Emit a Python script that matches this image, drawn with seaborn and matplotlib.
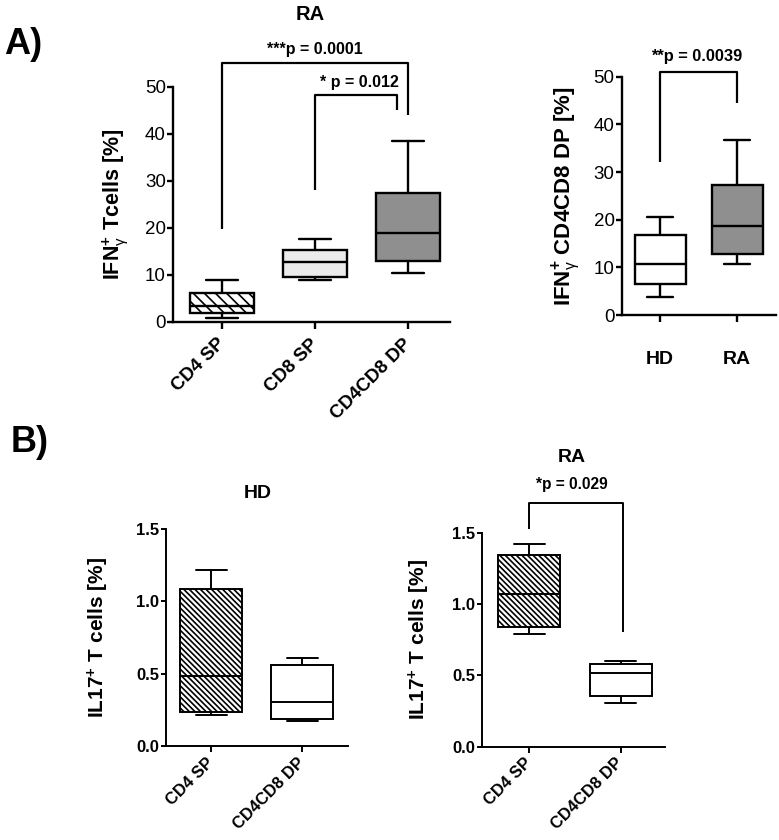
import numpy as np
import pandas as pd
import matplotlib
matplotlib.use("Agg")
import matplotlib.pyplot as plt
import seaborn as sns

# five-number summaries: [min, Q1, median, Q3, max]
ifn_cats = ["CD4 SP", "CD8 SP", "CD4CD8 DP"]
ifn_cd4_sp = [0.9, 2.0, 3.4, 6.2, 9.0]
ifn_cd8_sp = [8.9, 9.6, 12.8, 15.3, 17.7]
ifn_dp = [10.5, 13.0, 19.0, 27.5, 38.4]

dp_cats = ["HD", "RA"]
dp_hd = [3.8, 6.6, 10.7, 16.8, 20.5]
dp_ra = [10.7, 12.8, 18.7, 27.3, 36.7]

il17_cats = ["CD4 SP", "CD4CD8 DP"]
il17_hd_cd4 = [0.217, 0.233, 0.484, 1.083, 1.216]
il17_hd_dp = [0.173, 0.187, 0.302, 0.558, 0.606]
il17_ra_cd4 = [0.79, 0.841, 1.068, 1.343, 1.418]
il17_ra_dp = [0.308, 0.355, 0.514, 0.582, 0.603]

# significance brackets: (x_left, x_right, y_top, y_left_end, y_right_end, text, text_x, text_y)
brk_a1 = (0, 2, 55.0, 19.8, 44.0, "***p = 0.0001", 1.0, 57.9)
brk_a2 = (1, 1.88, 48.3, 28.0, 45.0, "* p = 0.012", 1.47, 51.0)
brk_a3 = (0, 1, 50.9, 32.1, 44.4, "**p = 0.0039", 0.47, 54.3)
brk_b = (0, 1.02, 1.706, 1.523, 0.806, "*p = 0.029", 0.47, 1.834)

WHITE = "#ffffff"
LIGHT = "#ebebeb"
DARK = "#8f8f8f"

sns.set_theme(style="ticks")
plt.rcParams["font.family"] = ["Liberation Sans", "DejaVu Sans"]
plt.rcParams["mathtext.fontset"] = "custom"
plt.rcParams["mathtext.rm"] = "Liberation Sans:bold"
plt.rcParams["mathtext.bf"] = "Liberation Sans:bold"
plt.rcParams["mathtext.it"] = "Liberation Sans"
plt.rcParams["hatch.linewidth"] = 1.2
for k in ["text.color", "axes.labelcolor", "xtick.color", "ytick.color", "axes.edgecolor"]:
    plt.rcParams[k] = "black"


def long_df(cats, groups):
    rows = []
    for c, g in zip(cats, groups):
        for v in g:
            rows.append({"cat": c, "val": v})
    return pd.DataFrame(rows)


def box(ax, cats, groups, colors, hatches, lw, width):
    df = long_df(cats, groups)
    sns.boxplot(data=df, x="cat", y="val", hue="cat", order=cats, hue_order=cats,
                palette=dict(zip(cats, colors)), legend=False, whis=(0, 100),
                width=width, linecolor="black", linewidth=lw, saturation=1,
                showfliers=False, ax=ax)
    for p, h in zip(ax.patches, hatches):
        if h:
            p.set_hatch(h)
    ax.set_xlabel("")
    sns.despine(ax=ax)
    for s in ["left", "bottom"]:
        ax.spines[s].set_linewidth(lw)


def bracket(ax, b, lw, fs):
    xl, xr, yt, yl, yr, txt, tx, ty = b
    ax.plot([xl, xl, xr, xr], [yl, yt, yt, yr], color="black", lw=lw,
            clip_on=False, solid_capstyle="butt")
    ax.text(tx, ty, txt, ha="center", va="center", fontsize=fs,
            fontweight="bold", clip_on=False)


def rotate_labels(ax):
    for t in ax.get_xticklabels():
        t.set_rotation(45)
        t.set_ha("right")
        t.set_va("center")
        t.set_rotation_mode("anchor")
        t.set_fontweight("bold")


fig = plt.figure(figsize=(7.79, 8.4), dpi=100)

# ---------------- A) left
ax1 = fig.add_axes([0.222, 0.6167, 0.356, 0.2798])
box(ax1, ifn_cats, [ifn_cd4_sp, ifn_cd8_sp, ifn_dp], [WHITE, LIGHT, DARK],
    ["\\\\\\", None, None], 1.7, 0.69)
ax1.set_ylim(0, 50)
ax1.set_xlim(-0.53, 2.45)
ax1.set_yticks(np.arange(0, 51, 10))
ax1.tick_params(axis="y", labelsize=13.5, length=4, width=1.7, pad=1)
ax1.tick_params(axis="x", labelsize=13.5, length=5, width=1.7, pad=9)
rotate_labels(ax1)
ax1.set_ylabel(r"IFN$_{\mathit{\gamma}}^{+}$ Tcells [%]", fontsize=15.5, fontweight="bold")
ax1.yaxis.set_label_coords(-0.155, 0.5)
ax1.text(0.495, 1.31, "RA", transform=ax1.transAxes, ha="center", va="center",
         fontsize=14.5, fontweight="bold")
bracket(ax1, brk_a1, 1.6, 11.5)
bracket(ax1, brk_a2, 1.6, 11.5)

# ---------------- A) right
ax2 = fig.add_axes([0.798, 0.625, 0.1977, 0.2837])
box(ax2, dp_cats, [dp_hd, dp_ra], [WHITE, DARK], [None, None], 1.7, 0.66)
ax2.set_ylim(0, 50)
ax2.set_xlim(-0.5, 1.5)
ax2.set_yticks(np.arange(0, 51, 10))
ax2.tick_params(axis="y", labelsize=13.5, length=4, width=1.7, pad=1)
ax2.tick_params(axis="x", labelsize=14, length=5, width=1.7, pad=21)
for t in ax2.get_xticklabels():
    t.set_fontweight("bold")
ax2.set_ylabel(r"IFN$_{\mathit{\gamma}}^{+}$ CD4CD8 DP [%]", fontsize=16, fontweight="bold")
ax2.yaxis.set_label_coords(-0.26, 0.5)
bracket(ax2, brk_a3, 1.6, 11.8)

# ---------------- B) left
ax3 = fig.add_axes([0.2127, 0.1119, 0.2336, 0.2583])
box(ax3, il17_cats, [il17_hd_cd4, il17_hd_dp], [WHITE, WHITE],
    ["\\\\\\\\\\\\", None], 1.4, 0.68)
ax3.set_ylim(0, 1.5)
ax3.set_xlim(-0.5, 1.5)
ax3.set_yticks([0.0, 0.5, 1.0, 1.5])
ax3.set_yticklabels(["0.0", "0.5", "1.0", "1.5"])

# ---------------- B) right
ax4 = fig.add_axes([0.6184, 0.1111, 0.2353, 0.2548])
box(ax4, il17_cats, [il17_ra_cd4, il17_ra_dp], [WHITE, WHITE],
    ["\\\\\\\\\\\\", None], 1.4, 0.68)
ax4.set_ylim(0, 1.5)
ax4.set_xlim(-0.52, 1.485)
ax4.set_yticks([0.0, 0.5, 1.0, 1.5])
ax4.set_yticklabels(["0.0", "0.5", "1.0", "1.5"])
bracket(ax4, brk_b, 1.4, 11.2)

for ax, lx in [(ax3, -0.298), (ax4, -0.273)]:
    ax.tick_params(axis="y", labelsize=12, length=3.5, width=1.4, pad=1)
    ax.tick_params(axis="x", labelsize=12, length=4, width=1.4, pad=6)
    for t in ax.get_yticklabels():
        t.set_fontweight("bold")
    rotate_labels(ax)
    ax.set_ylabel(r"IL17$^{+}$ T cells [%]", fontsize=15, fontweight="bold")
    ax.yaxis.set_label_coords(lx, 0.5)

ax3.text(0.507, 1.166, "HD", transform=ax3.transAxes, ha="center", va="center",
         fontsize=14, fontweight="bold")
ax4.text(0.49, 1.35, "RA", transform=ax4.transAxes, ha="center", va="center",
         fontsize=14, fontweight="bold")

fig.text(0.005, 1 - 44 / 840, "A)", fontsize=26, fontweight="bold", va="center", ha="left")
fig.text(0.014, 1 - 442 / 840, "B)", fontsize=26, fontweight="bold", va="center", ha="left")

fig.savefig("out.png", dpi=100, facecolor="white")
